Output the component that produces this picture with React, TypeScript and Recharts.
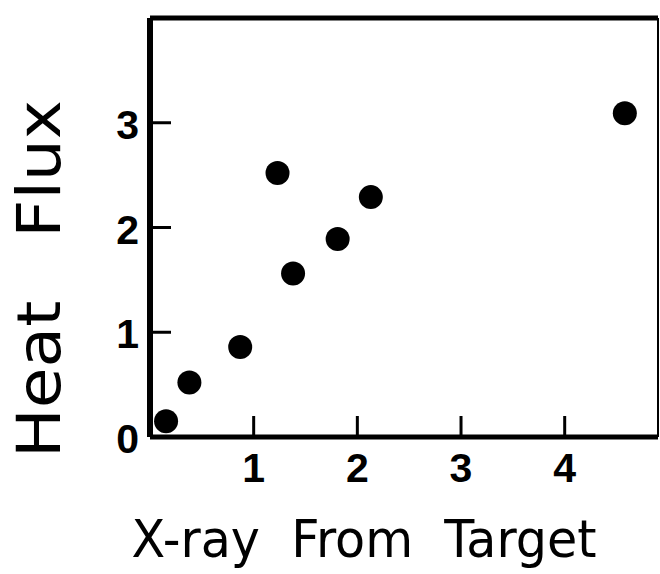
import { Label, ReferenceLine, Scatter, ScatterChart, XAxis, YAxis } from "recharts";

const xValues = [0.155, 0.38, 0.87, 1.23, 1.38, 1.81, 2.13, 4.58];
const yValues = [0.15, 0.52, 0.86, 2.52, 1.56, 1.89, 2.29, 3.09];
const xTicks = [1, 2, 3, 4];
const yTicks = [0, 1, 2, 3];
const xDomain = [0, 4.9];
const yDomain = [0, 4];

const points = xValues.map((x, i) => ({ x, y: yValues[i] }));

const INK = "#000";
const TICK_FONT = "'Liberation Sans', sans-serif";

const XTick = (props: any) => {
  const { x, y, payload } = props;
  return (
    <g>
      <line x1={x} y1={y} x2={x} y2={y - 21} stroke={INK} strokeWidth={3} />
      <text
        x={x}
        y={y + 45}
        textAnchor="middle"
        fontFamily={TICK_FONT}
        fontWeight="bold"
        fontSize={41}
        fill={INK}
      >
        {payload.value}
      </text>
    </g>
  );
};

const YTick = (props: any) => {
  const { x, y, payload } = props;
  return (
    <g>
      {payload.value !== 0 && (
        <line x1={x} y1={y} x2={x + 21} y2={y} stroke={INK} strokeWidth={3} />
      )}
      <text
        x={x - 11}
        y={y + 16}
        textAnchor="end"
        fontFamily={TICK_FONT}
        fontWeight="bold"
        fontSize={41}
        fill={INK}
      >
        {payload.value}
      </text>
    </g>
  );
};

const XTitle = () => (
  <text
    x={364}
    y={557}
    textAnchor="middle"
    fontFamily="'DejaVu Sans', sans-serif"
    fontSize={52}
    textLength={465}
    lengthAdjust="spacingAndGlyphs"
    fill={INK}
    style={{ whiteSpace: "pre" }}
  >
    {"X-ray  From  Target"}
  </text>
);

const YTitle = () => (
  <text
    transform="translate(60,279) rotate(-90)"
    textAnchor="middle"
    fontFamily="'DejaVu Sans', sans-serif"
    fontSize={60}
    textLength={358}
    lengthAdjust="spacingAndGlyphs"
    fill={INK}
    style={{ whiteSpace: "pre" }}
  >
    {"Heat   Flux"}
  </text>
);

const Dot = (props: any) => <circle cx={props.cx} cy={props.cy} r={12} fill={INK} />;

export default function App() {
  return (
    <div style={{ width: 660, height: 574, background: "#fff" }}>
      <style>{"body{margin:0}"}</style>
      <ScatterChart
        width={660}
        height={574}
        margin={{ top: 18, right: 2, left: 0, bottom: 0 }}
      >
        <XAxis
          type="number"
          dataKey="x"
          domain={xDomain}
          ticks={xTicks}
          height={137}
          tickSize={0}
          tickMargin={0}
          tickLine={false}
          axisLine={{ stroke: INK, strokeWidth: 5 }}
          tick={<XTick />}
          interval={0}
        >
          <Label content={<XTitle />} />
        </XAxis>
        <YAxis
          type="number"
          dataKey="y"
          domain={yDomain}
          ticks={yTicks}
          width={150}
          tickSize={0}
          tickMargin={0}
          tickLine={false}
          axisLine={{ stroke: INK, strokeWidth: 6 }}
          tick={<YTick />}
          interval={0}
        >
          <Label content={<YTitle />} />
        </YAxis>
        <ReferenceLine y={yDomain[1]} stroke={INK} strokeWidth={5} />
        <ReferenceLine x={xDomain[1]} stroke={INK} strokeWidth={2} />
        <Scatter data={points} shape={<Dot />} isAnimationActive={false} />
      </ScatterChart>
    </div>
  );
}
